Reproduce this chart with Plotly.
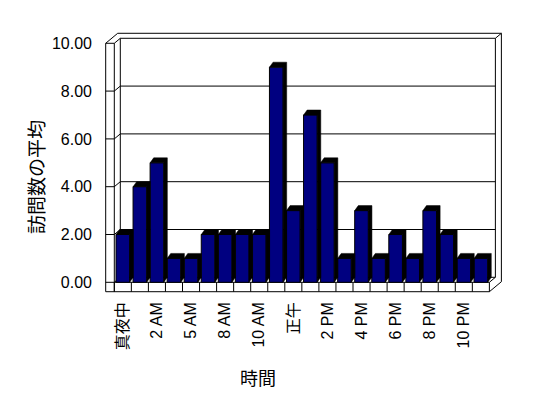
import plotly.graph_objects as go

# ---- data ----
hours = ["真夜中", "1 AM", "2 AM", "3 AM", "5 AM", "6 AM", "8 AM", "9 AM", "10 AM",
         "11 AM", "正午", "1 PM", "2 PM", "3 PM", "4 PM", "5 PM", "6 PM", "7 PM",
         "8 PM", "9 PM", "10 PM", "11 PM"]
visits = [2, 4, 5, 1, 1, 2, 2, 2, 2, 9, 3, 7, 5, 1, 3, 1, 2, 1, 3, 2, 1, 1]
y_ticks = [0, 2, 4, 6, 8, 10]
y_title = "訪問数の平均"
x_title = "時間"

# ---- layout geometry (pixels; page has an 8px body margin) ----
OFF = 8
W, H = 540, 390
PW, PH = 406, 265
ML, MT = 100 - OFF, 30 - OFF
MR, MB = W - ML - PW, H - MT - PH
XR = [-1.3387, 22.474]
YR = [-0.531, 10.556]
ppx = PW / (XR[1] - XR[0])
ppy = PH / (YR[1] - YR[0])

n = len(hours)
X0, X1 = -0.5, n - 0.5
dxW, dyW = 6 / ppx, 5 / ppy          # wall depth
dxB, dyB = 3.6 / ppx, 5 / ppy        # bar depth
FL = 9.4 / ppy                       # floor thickness
LW = X0 - 8.6 / ppx                  # left wall outer edge
TOP = y_ticks[-1]

shapes = []


def seg(x0, y0, x1, y1):
    shapes.append(dict(type="line", xref="x", yref="y", x0=x0, y0=y0, x1=x1, y1=y1,
                       layer="below", line=dict(color="black", width=1)))


for v in y_ticks:
    seg(LW, v, X0, v)
    seg(X0, v, X0 + dxW, v + dyW)
    seg(X0 + dxW, v + dyW, X1 + dxW, v + dyW)

seg(LW, -FL, LW, TOP)
seg(X0, -FL, X0, TOP)
seg(X0 + dxW, dyW, X0 + dxW, TOP + dyW)
seg(X1 + dxW, dyW, X1 + dxW, TOP + dyW)
seg(LW, TOP, LW + 2 * dxW, TOP + 2 * dyW)
seg(LW + 2 * dxW, TOP + 2 * dyW, X1 + 2 * dxW, TOP + 2 * dyW)
seg(X1 + dxW, TOP + dyW, X1 + 2 * dxW, TOP + 2 * dyW)
seg(X1 + 2 * dxW, TOP + 2 * dyW, X1 + 2 * dxW, -FL + 2 * dyW)
seg(LW, -FL, X1, -FL)
seg(X1, -FL, X1 + 2 * dxW, -FL + 2 * dyW)
seg(X0, 0, X1, 0)
seg(X1, 0, X1 + dxW, dyW)
for k in range(n + 1):
    seg(X0 + k, -FL, X0 + k, 0)

# ---- 3D side/top of bars (derived from data) ----
half = 0.4
sx, sy = [], []
for i, v in enumerate(visits):
    xl, xr = i - half, i + half
    sx += [xl, xl + dxB, xr + dxB, xr + dxB, xr, xr, xl, None]
    sy += [v, v + dyB, v + dyB, dyB, 0, v, v, None]

fig = go.Figure()
fig.add_trace(go.Bar(x=list(range(n)), y=visits, width=2 * half,
                     marker=dict(color="#000080", line=dict(color="black", width=1)),
                     hoverinfo="skip"))
fig.add_trace(go.Scatter(x=sx, y=sy, mode="lines", fill="toself", fillcolor="black",
                         line=dict(color="black", width=0.5), hoverinfo="skip"))

tickvals = list(range(0, n, 2))
ticktext = [hours[i] for i in tickvals]

font_main = "Liberation Sans, Arial, Noto Sans CJK JP, sans-serif"
font_cjk = "Noto Sans CJK JP, sans-serif"

fig.update_layout(
    width=W, height=H, autosize=False,
    margin=dict(l=ML, r=MR, t=MT, b=MB, pad=0),
    paper_bgcolor="white", plot_bgcolor="white",
    showlegend=False, shapes=shapes,
    xaxis=dict(range=XR, tickvals=tickvals, ticktext=ticktext, tickangle=-90,
               showgrid=False, zeroline=False, showline=False, ticks="",
               ticklabelstandoff=3,
               tickfont=dict(family=font_main, size=16, color="black")),
    yaxis=dict(range=YR, tickvals=y_ticks, tickformat=".2f",
               showgrid=False, zeroline=False, showline=False, ticks="",
               ticklabelstandoff=7,
               tickfont=dict(family=font_main, size=16, color="black")),
    annotations=[
        dict(text=y_title, xref="paper", yref="paper", x=(35 - OFF - ML) / PW,
             y=(MT + PH - (177 - OFF)) / PH, textangle=-90, showarrow=False,
             xanchor="center", yanchor="middle",
             font=dict(family=font_cjk, size=19, color="black")),
        dict(text=x_title, xref="paper", yref="paper", x=(258 - OFF - ML) / PW,
             y=(MT + PH - (377 - OFF)) / PH, showarrow=False,
             xanchor="center", yanchor="middle",
             font=dict(family=font_cjk, size=18, color="black")),
    ],
)

fig.write_html("out.html")
